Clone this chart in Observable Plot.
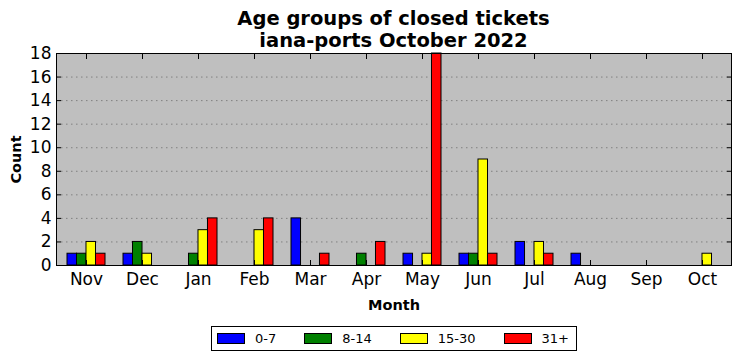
<!DOCTYPE html>
<html>
<head>
<meta charset="utf-8">
<script src="https://cdn.jsdelivr.net/npm/d3@7"></script>
<script src="https://cdn.jsdelivr.net/npm/@observablehq/plot@0.6"></script>
<style>
  html, body { margin: 0; padding: 0; background: #fff; }
  body { width: 741px; height: 361px; position: relative; overflow: hidden; font-family: "DejaVu Sans", sans-serif; }
  #title { position: absolute; left: 56px; width: 675px; top: 0; padding-top: 8px; text-align: center;
           font-weight: bold; font-size: 19.5px; line-height: 22px; color: #000; white-space: nowrap; }
  #chart { position: absolute; left: 0; top: 48px; }
  #chart svg { overflow: visible; }
  g[aria-label="y-axis tick label"] text, g[aria-label="x-axis tick label"] text { font-size: 17px; }
  g[aria-label="y-axis label"] text, g[aria-label="x-axis label"] text { font-weight: bold; font-size: 14.5px; }
  #legend { position: absolute; left: 211px; top: 326px; width: 359px; height: 23px; border: 1px solid #000;
            display: flex; align-items: center; padding-left: 5px; box-sizing: content-box; font-size: 13px; white-space: nowrap; }
  .item { display: flex; align-items: center; margin-right: 28px; flex-shrink: 0; }
  .patch { width: 26px; height: 9px; border: 1px solid #000; margin-right: 10px; flex-shrink: 0; }
</style>
</head>
<body>
<div id="title">Age groups of closed tickets<br>iana-ports October 2022</div>
<div id="chart"></div>
<div id="legend"></div>
<script>
const months = ["Nov","Dec","Jan","Feb","Mar","Apr","May","Jun","Jul","Aug","Sep","Oct"];
const groups = ["0-7","8-14","15-30","31+"];
const colors = ["#0000ff","#008000","#ffff00","#ff0000"];
const v0_7   = [1,1,0,0,4,0,1,1,2,1,0,0];
const v8_14  = [1,2,1,0,0,1,0,1,0,0,0,0];
const v15_30 = [2,1,3,3,0,0,1,9,2,0,0,1];
const v31    = [1,0,4,4,1,2,18,1,1,0,0,0];
const yTicks = [0,2,4,6,8,10,12,14,16,18];

const series = [v0_7, v8_14, v15_30, v31];
const rows = [];
groups.forEach((g, i) => months.forEach((m, j) => rows.push({month: m, group: g, gi: i, count: series[i][j]})));

const width = 741, marginLeft = 56, marginRight = 10;
const padInner = 0.325;
const step = (width - marginLeft - marginRight) / months.length;
const bw = step * (1 - padInner);
const sub = bw / groups.length;

const barMarks = groups.map((g, i) => Plot.barY(rows.filter(d => d.gi === i), {
  x: "month", y: "count", fill: colors[i], stroke: "#000", strokeWidth: 1,
  insetLeft: i * sub, insetRight: (groups.length - 1 - i) * sub
}));

const chart = Plot.plot({
  width, height: 267,
  marginLeft, marginRight, marginTop: 5, marginBottom: 50,
  style: { fontFamily: "DejaVu Sans, sans-serif", fontSize: "16px", color: "#000", background: "transparent" },
  x: { domain: months, paddingInner: padInner, paddingOuter: padInner / 2 },
  y: { domain: [0, 18], ticks: yTicks },
  marks: [
    Plot.frame({ fill: "#bfbfbf", stroke: null }),
    Plot.gridY(yTicks.filter(t => t > 0 && t < 18), { stroke: "#808080", strokeOpacity: 1, strokeDasharray: "1.5,3.5" }),
    ...barMarks,
    Plot.axisY(yTicks, { anchor: "left", tickSize: 0, tickPadding: 5, fontSize: 17, label: "Count", labelAnchor: "center", labelArrow: "none", labelOffset: 46 }),
    Plot.axisY(yTicks, { anchor: "left", tickSize: 5, dx: 5, fill: "none", label: null }),
    Plot.axisY(yTicks, { anchor: "right", tickSize: 5, dx: -5, fill: "none", label: null }),
    Plot.axisX({ anchor: "bottom", tickSize: 0, tickPadding: 7, fontSize: 17, label: "Month", labelAnchor: "center", labelArrow: "none", labelOffset: 44 }),
    Plot.axisX({ anchor: "bottom", tickSize: 5, dy: -5, fill: "none", label: null }),
    Plot.axisX({ anchor: "top", tickSize: 5, dy: 5, fill: "none", label: null }),
    Plot.frame({ stroke: "#000", strokeWidth: 1 })
  ]
});
document.getElementById("chart").appendChild(chart);

const legend = document.getElementById("legend");
groups.forEach((g, i) => {
  const it = document.createElement("div");
  it.className = "item";
  const p = document.createElement("div");
  p.className = "patch";
  p.style.background = colors[i];
  const t = document.createElement("span");
  t.textContent = g;
  it.appendChild(p); it.appendChild(t);
  legend.appendChild(it);
});
</script>
</body>
</html>
